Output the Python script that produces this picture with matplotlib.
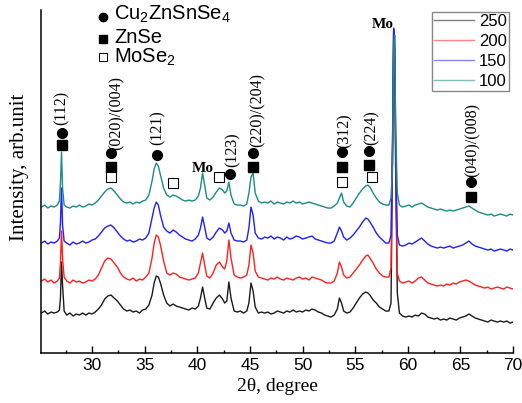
import matplotlib
matplotlib.use('Agg')
import matplotlib.pyplot as plt
from matplotlib.lines import Line2D
from matplotlib.ticker import MultipleLocator

plt.rcParams['font.family'] = 'Liberation Sans'
plt.rcParams['mathtext.fontset'] = 'custom'
plt.rcParams['mathtext.rm'] = 'Liberation Sans'

# 2theta grid shared by the four scans (degrees)
two_theta = [
    25.2, 25.5, 25.8, 26.1, 26.4, 26.7, 26.9, 27.0, 27.1, 27.2,
    27.35, 27.6, 27.9, 28.2, 28.5, 28.8, 29.1, 29.4, 29.7, 30.0,
    30.3, 30.6, 30.9, 31.2, 31.5, 31.8, 32.1, 32.4, 32.7, 33.0,
    33.3, 33.6, 33.9, 34.2, 34.5, 34.8, 35.1, 35.4, 35.7, 35.9,
    36.1, 36.3, 36.5, 36.8, 37.1, 37.4, 37.7, 38.0, 38.3, 38.6,
    38.9, 39.2, 39.5, 39.8, 40.1, 40.3, 40.5, 40.7, 40.9, 41.2,
    41.5, 41.8, 42.1, 42.4, 42.6, 42.8, 43.0, 43.2, 43.5, 43.8,
    44.1, 44.4, 44.7, 44.9, 45.1, 45.3, 45.5, 45.8, 46.1, 46.4,
    46.7, 47.0, 47.3, 47.6, 47.9, 48.2, 48.5, 48.8, 49.1, 49.4,
    49.7, 50.0, 50.3, 50.6, 50.9, 51.2, 51.5, 51.8, 52.1, 52.4,
    52.7, 53.0, 53.3, 53.5, 53.7, 53.9, 54.2, 54.5, 54.8, 55.1,
    55.4, 55.7, 56.0, 56.2, 56.4, 56.7, 57.0, 57.3, 57.6, 57.9,
    58.2, 58.4, 58.55, 58.65, 58.75, 58.85, 59.0, 59.2, 59.5, 59.8,
    60.1, 60.4, 60.7, 61.0, 61.3, 61.6, 61.9, 62.2, 62.5, 62.8,
    63.1, 63.4, 63.7, 64.0, 64.3, 64.6, 64.9, 65.2, 65.5, 65.8,
    66.1, 66.4, 66.7, 67.0, 67.3, 67.6, 67.9, 68.2, 68.5, 68.8,
    69.1, 69.4, 69.7, 70.0,
]

# intensities (arb. units, already offset as in the figure)
i_250 = [
    40, 42, 39, 41, 40, 41, 43, 55, 91, 68,
    42, 38, 40, 37, 39, 38, 40, 38, 40, 39,
    41, 44, 48, 54, 57, 58, 55, 52, 48, 44,
    42, 43, 41, 42, 40, 43, 44, 48, 58, 70,
    77, 76, 70, 58, 50, 47, 49, 47, 46, 45,
    44, 43, 45, 44, 47, 55, 66, 55, 45, 44,
    50, 55, 58, 54, 50, 52, 71, 55, 42, 41,
    42, 40, 42, 50, 70, 62, 46, 40, 41, 40,
    41, 39, 40, 42, 41, 40, 42, 41, 43, 41,
    42, 41, 43, 42, 44, 43, 41, 40, 38, 37,
    36, 38, 44, 55, 50, 42, 40, 41, 45, 50,
    55, 59, 61, 60, 58, 53, 50, 46, 44, 42,
    42, 50, 200, 318, 300, 170, 60, 40, 37, 36,
    37, 36, 38, 37, 40, 39, 36, 35, 34, 35,
    33, 34, 33, 35, 34, 33, 35, 36, 37, 39,
    37, 35, 34, 33, 32, 31, 33, 32, 31, 32,
    31, 32, 30, 31,
]
i_200 = [
    72, 74, 71, 73, 70, 72, 75, 90, 122, 95,
    76, 72, 70, 73, 71, 72, 70, 71, 73, 72,
    74, 78, 85, 92, 95, 94, 90, 86, 80, 76,
    74, 73, 75, 72, 74, 73, 76, 80, 95, 110,
    118, 116, 108, 92, 80, 78, 80, 79, 76, 75,
    74, 73, 74, 75, 80, 90, 100, 88, 77, 75,
    80, 88, 91, 86, 84, 92, 113, 95, 78, 76,
    75, 76, 78, 88, 108, 100, 82, 76, 75, 74,
    73, 75, 74, 76, 74, 73, 75, 74, 73, 75,
    76, 74, 75, 73, 76, 75, 74, 73, 71, 70,
    70, 72, 80, 91, 86, 78, 75, 76, 80, 84,
    88, 93, 97, 98, 95, 90, 84, 80, 77, 76,
    76, 85, 210, 322, 305, 190, 80, 72, 70, 71,
    72, 70, 72, 75, 76, 73, 70, 69, 68, 67,
    68, 67, 69, 68, 70, 69, 71, 72, 73, 72,
    70, 68, 67, 66, 65, 66, 64, 65, 66, 65,
    64, 66, 65, 64,
]
i_150 = [
    110, 112, 109, 111, 110, 112, 115, 130, 165, 128,
    112, 110, 108, 111, 109, 110, 112, 110, 111, 113,
    114, 117, 121, 125, 127, 128, 125, 121, 117, 114,
    112, 113, 111, 112, 114, 113, 115, 120, 135, 145,
    151, 148, 138, 126, 122, 120, 123, 121, 118, 116,
    114, 113, 112, 114, 118, 125, 136, 126, 115, 113,
    116, 121, 125, 123, 120, 122, 130, 120, 113, 112,
    112, 111, 113, 125, 146, 138, 120, 115, 114, 116,
    115, 117, 114, 116, 115, 113, 116, 114, 115, 117,
    116, 114, 115, 116, 117, 114, 113, 112, 111, 110,
    110, 112, 120, 126, 122, 116, 113, 115, 118, 122,
    126, 131, 135, 134, 131, 126, 120, 116, 113, 110,
    110, 118, 220, 325, 315, 200, 118, 108, 107, 108,
    110, 109, 111, 113, 115, 112, 109, 107, 106, 105,
    106, 105, 106, 107, 105, 106, 107, 108, 110, 112,
    109, 107, 106, 105, 104, 103, 104, 102, 103, 104,
    103, 102, 104, 103,
]
i_100 = [
    146, 148, 145, 147, 146, 148, 152, 170, 201, 165,
    148, 146, 145, 147, 146, 148, 146, 147, 149, 148,
    150, 153, 157, 161, 164, 165, 162, 158, 154, 151,
    150, 151, 149, 151, 150, 152, 153, 158, 172, 184,
    190, 187, 178, 165, 158, 156, 158, 157, 155, 153,
    152, 153, 152, 153, 157, 165, 180, 168, 155, 153,
    156, 161, 165, 163, 160, 162, 171, 158, 149, 148,
    148, 147, 149, 160, 176, 180, 160, 152, 150, 151,
    150, 152, 149, 151, 150, 149, 151, 150, 152, 150,
    151, 149, 150, 151, 150, 149, 148, 147, 146, 145,
    145, 147, 150, 155, 160, 151, 147, 146, 150, 155,
    160, 164, 167, 168, 166, 160, 155, 151, 149, 148,
    148, 155, 190, 310, 318, 220, 160, 148, 146, 147,
    148, 146, 148, 149, 150, 148, 146, 145, 144, 143,
    144, 143, 142, 143, 142, 143, 144, 145, 146, 147,
    145, 143, 141, 140, 139, 138, 139, 137, 138, 139,
    138, 137, 139, 138,
]

series_labels = ['250', '200', '150', '100']
series_colors = ['#1a1a1a', '#ff1f1f', '#1f1fff', '#1a8c84']

# reflection labels: position, text, bottom of the label
hkl_pos = [27.1, 32.37, 36.26, 43.38, 45.76, 54.0, 56.58, 66.17]
hkl_text = ['(112)', '(020)/(004)', '(121)', '(123)', '(220)/(204)',
            '(312)', '(224)', '(040)/(008)']
hkl_bottom = [228, 203, 208, 186, 206, 205, 208, 176]

# phase markers (2theta, intensity level)
czts_x = [27.1, 31.77, 36.14, 43.1, 45.3, 53.78, 56.3, 65.98]
czts_y = [220, 200, 198, 179, 200, 201, 202, 171]
znse_x = [27.1, 31.77, 45.3, 53.72, 56.3, 65.98]
znse_y = [208, 186, 186, 186, 188, 156]
mose2_x = [31.77, 37.7, 42.05, 53.72, 56.56]
mose2_y = [176, 170, 176, 171, 176]

phase_names = ['Cu$_2$ZnSnSe$_4$', 'ZnSe', 'MoSe$_2$']

fig = plt.figure(figsize=(5.22, 4.03), dpi=100)
ax = fig.add_axes([0.0785, 0.124, 0.9045, 0.851])

for ys, lab, col in zip([i_250, i_200, i_150, i_100], series_labels, series_colors):
    ax.plot(two_theta, ys, color=col, lw=1.0, label=lab)

ax.plot(czts_x, czts_y, 'o', color='black', ms=7, ls='none')
ax.plot(znse_x, znse_y, 's', color='black', ms=7, ls='none')
ax.plot(mose2_x, mose2_y, 's', mfc='white', mec='black', mew=0.8, ms=7, ls='none')

for x, t, b in zip(hkl_pos, hkl_text, hkl_bottom):
    ax.text(x, b, t, rotation=90, ha='center', va='bottom',
            family='Liberation Serif', fontsize=11.5)

ax.text(40.5, 185, 'Mo', ha='center', va='center', family='Liberation Serif',
        fontsize=11, fontweight='bold')
ax.text(57.63, 329, 'Mo', ha='center', va='center', family='Liberation Serif',
        fontsize=11, fontweight='bold')

# phase key in the upper left (placed by hand, like the original)
key_styles = [
    dict(marker='o', color='black', ms=6),
    dict(marker='s', color='black', ms=5.5),
    dict(marker='s', mfc='white', mec='black', mew=0.7, ms=5.5),
]
key_marker_y = [17, 39, 57]
key_base_y = [20, 43, 63]
for name, sty, my, by in zip(phase_names, key_styles, key_marker_y, key_base_y):
    fig.add_artist(Line2D([103 / 522], [1 - my / 403], ls='none',
                          transform=fig.transFigure, **sty))
    fig.text(114 / 522, 1 - by / 403, name, fontsize=14.5, va='baseline')

temp_handles = [Line2D([], [], color=c, lw=1.0, alpha=0.55) for c in series_colors]
leg = ax.legend(temp_handles, series_labels, loc='upper right',
                bbox_to_anchor=(509 / 522, 1 - 12 / 403), bbox_transform=fig.transFigure,
                fontsize=12, handlelength=2.4, handletextpad=0.3, labelspacing=0.3,
                borderpad=0.12, borderaxespad=0, fancybox=False, framealpha=1,
                edgecolor='#888888')
leg.get_frame().set_linewidth(1.0)

ax.set_xlim(25.15, 70)
ax.set_ylim(0, 343)
ax.xaxis.set_major_locator(MultipleLocator(5))
ax.xaxis.set_minor_locator(MultipleLocator(2.5))
ax.set_yticks([])
ax.tick_params(axis='x', which='major', direction='in', length=5, width=1, labelsize=12.5)
ax.tick_params(axis='x', which='minor', direction='in', length=2.5, width=1)
ax.spines['top'].set_visible(False)
ax.spines['right'].set_visible(False)
ax.spines['left'].set_linewidth(1.1)
ax.spines['bottom'].set_linewidth(1.1)

ax.set_xlabel('2θ, degree', family='Liberation Serif', fontsize=14, labelpad=4)
ax.set_ylabel('Intensity, arb.unit', family='Liberation Serif', fontsize=15)
ax.yaxis.set_label_coords(-0.025, 0.542)

fig.savefig('out.png', dpi=100)
